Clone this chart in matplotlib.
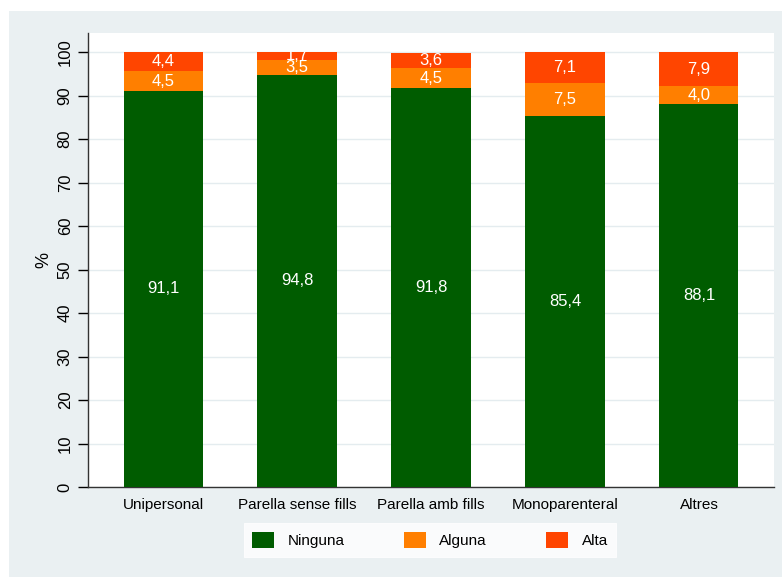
import matplotlib.pyplot as plt
from matplotlib.patches import Rectangle
import numpy as np

plt.rcParams['font.family'] = ['Liberation Sans', 'DejaVu Sans']

categories = ['Unipersonal', 'Parella sense fills', 'Parella amb fills', 'Monoparenteral', 'Altres']
ninguna = [91.1, 94.8, 91.8, 85.4, 88.1]
alguna = [4.5, 3.5, 4.5, 7.5, 4.0]
alta = [4.4, 1.7, 3.6, 7.1, 7.9]
series_names = ['Ninguna', 'Alguna', 'Alta']
colors = ['#005C00', '#FF7F00', '#FF4500']
bg = '#EAF0F2'

fig = plt.figure(figsize=(7.82, 5.77), dpi=100, facecolor='white')
# Stata-like graph region
fig.patches.append(Rectangle((9 / 782, 0), 1 - 9 / 782, 1 - 11 / 577,
                             transform=fig.transFigure, facecolor=bg,
                             edgecolor='none', zorder=-10))

ax = fig.add_axes([88 / 782, 90 / 577, (774 - 88) / 782, (487 - 33) / 577])
ax.set_facecolor('white')

x = np.arange(len(categories))
w = 0.59
bottom = np.zeros(len(categories))
for vals, name, col in zip([ninguna, alguna, alta], series_names, colors):
    vals = np.array(vals)
    bars = ax.bar(x, vals, w, bottom=bottom, color=col, label=name,
                  edgecolor='none', zorder=3)
    for xi, b, v in zip(x, bottom, vals):
        ax.text(xi, b + v / 2, f'{v:.1f}'.replace('.', ','), color='white',
                ha='center', va='center', fontsize=12, zorder=4)
    bottom += vals

ax.set_xlim(-0.56, len(categories) - 1 + 0.56)
ax.set_ylim(0, 104.4)
ax.set_yticks(range(0, 101, 10))
ax.set_yticklabels([str(t) for t in range(0, 101, 10)], rotation=90, va='center',
                   fontsize=12)
ax.set_xticks(x)
ax.set_xticklabels(categories, fontsize=11)
ax.tick_params(axis='x', length=0, pad=8)
ax.tick_params(axis='y', length=7, width=1, pad=4)
ax.grid(axis='y', color='#E4ECEF', linewidth=1, zorder=0)
ax.set_ylabel('%', fontsize=13, labelpad=4)

for s in ['top', 'right']:
    ax.spines[s].set_visible(False)
for s in ['left', 'bottom']:
    ax.spines[s].set_color('#333333')
    ax.spines[s].set_linewidth(1)

leg = fig.legend(loc='center', bbox_to_anchor=(430 / 782, 1 - 540 / 577), ncol=3,
                 frameon=True, fancybox=False, fontsize=11,
                 handlelength=1.45, handleheight=1.25, handletextpad=0.85,
                 columnspacing=3.9, borderpad=0.55, borderaxespad=0)
leg.get_frame().set_facecolor('white')
leg.get_frame().set_edgecolor('white')
leg.get_frame().set_linewidth(0.8)

fig.savefig('out.png', dpi=100, facecolor=fig.get_facecolor())
